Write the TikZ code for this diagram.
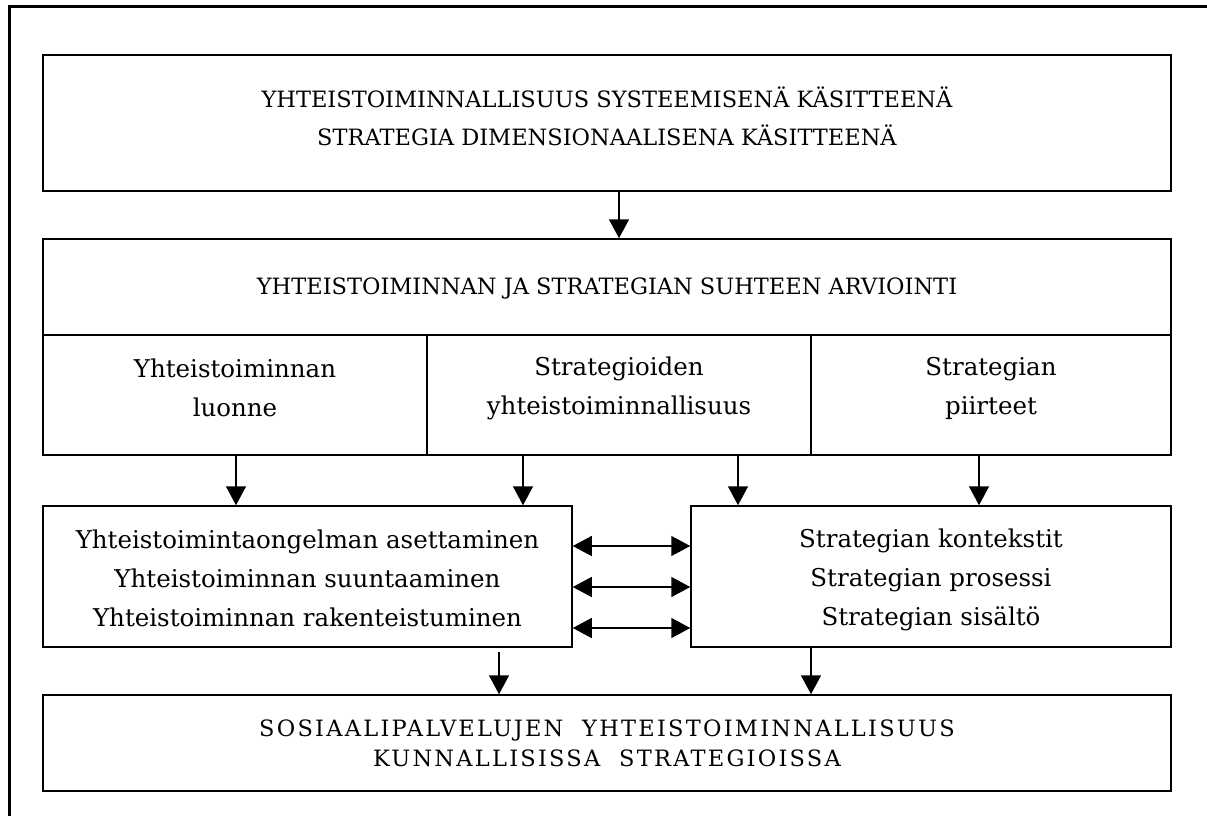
\documentclass[tikz,border=0pt]{standalone}
\usepackage{fontspec}
\setmainfont{DejaVu Serif}
\newfontfamily\widecaps[LetterSpace=10]{DejaVu Serif}
\usetikzlibrary{arrows.meta}
\begin{document}
\begin{tikzpicture}[x=1pt,y=-1pt,
  box/.style={draw, line width=1.5pt, inner sep=0pt},
  capstext/.style={inner sep=0pt, align=center, font=\fontsize{22.5}{38}\selectfont},
  lowtext/.style={inner sep=0pt, align=center, font=\fontsize{24.5}{39}\selectfont},
  arr/.style={line width=1.5pt, -{Triangle[width=20pt,length=19pt]}},
  darr/.style={line width=1.5pt, {Triangle[width=20pt,length=19pt]}-{Triangle[width=20pt,length=19pt]}}]
\useasboundingbox (0,0) rectangle (1207,816);
\draw[line width=3pt] (9,816) -- (9,7) -- (1207,7);
% boxes
\node[box, minimum width=1128pt, minimum height=136pt] (top) at (607,123) {};
\node[box, minimum width=1128pt, minimum height=96pt] (hdr) at (607,287) {};
\node[box, minimum width=384pt, minimum height=120pt] (c1) at (235,395) {};
\node[box, minimum width=384pt, minimum height=120pt] (c2) at (619,395) {};
\node[box, minimum width=360pt, minimum height=120pt] (c3) at (991,395) {};
\node[box, minimum width=529pt, minimum height=141pt] (ml) at (307.5,576.5) {};
\node[box, minimum width=480pt, minimum height=141pt] (mr) at (931,576.5) {};
\node[box, minimum width=1128pt, minimum height=96pt] (bot) at (607,743) {};
% texts
\node[capstext] (topt) at ([yshift=7pt]top.center)
  {YHTEISTOIMINNALLISUUS SYSTEEMISENÄ KÄSITTEENÄ\\STRATEGIA DIMENSIONAALISENA KÄSITTEENÄ};
\node[capstext] (hdrt) at ([yshift=-1pt]hdr.center)
  {YHTEISTOIMINNAN JA STRATEGIAN SUHTEEN ARVIOINTI};
\node[lowtext] (c1t) at ([yshift=7pt]c1.center) {Yhteistoiminnan\\luonne};
\node[lowtext] (c2t) at ([yshift=7pt]c2.center) {Strategioiden\\yhteistoiminnallisuus};
\node[lowtext] (c3t) at ([yshift=7pt]c3.center) {Strategian\\piirteet};
\node[lowtext] (mlt) at ([yshift=-2pt]ml.center)
  {Yhteistoimintaongelman asettaminen\\Yhteistoiminnan suuntaaminen\\Yhteistoiminnan rakenteistuminen};
\node[lowtext] (mrt) at ([yshift=-3pt]mr.center)
  {Strategian kontekstit\\Strategian prosessi\\Strategian sisältö};
\node[capstext, font=\widecaps\fontsize{22.5}{30}\selectfont] (bott) at (bot.center)
  {SOSIAALIPALVELUJEN\ \ YHTEISTOIMINNALLISUUS\\KUNNALLISISSA\ \ STRATEGIOISSA};
% connectors
\draw[arr] (top.south -| 619,0) -- (hdr.north -| 619,0);
\coordinate (a1) at (236,455);
\coordinate (a2) at (523,455);
\coordinate (a3) at (738,455);
\coordinate (a4) at (979,455);
\draw[arr] (a1) -- (a1 |- ml.north);
\draw[arr] (a2) -- (a2 |- ml.north);
\draw[arr] (a3) -- (a3 |- mr.north);
\draw[arr] (a4) -- (a4 |- mr.north);
\foreach \yy in {546,587,628} {
  \draw[darr] (ml.east |- 0,\yy) -- (mr.west |- 0,\yy);
}
\coordinate (b1) at (499,652);
\coordinate (b2) at (811,647);
\draw[arr] (b1) -- (b1 |- bot.north);
\draw[arr] (b2) -- (b2 |- bot.north);
\end{tikzpicture}
\end{document}
